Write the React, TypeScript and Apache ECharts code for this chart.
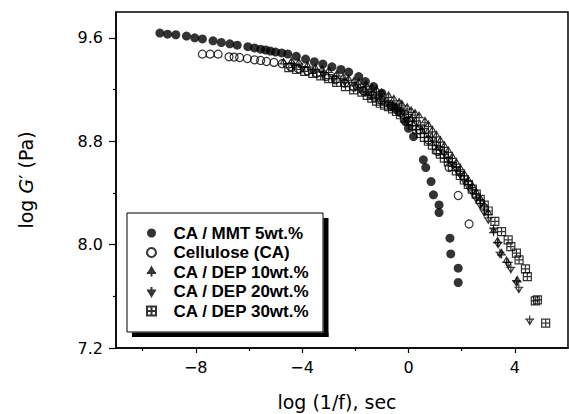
import React, { useEffect, useRef } from 'react';
import * as echarts from 'echarts';

// ---- data ----
const mmtX = [-9.35, -9.06, -8.75, -8.35, -8.04, -7.75, -7.35, -7.04, -6.72, -6.44, -6.04, -5.79, -5.56, -5.37, -5.19, -5.0, -4.77, -4.54, -4.22, -3.87, -3.54, -3.22, -2.88, -2.54, -2.25, -1.87, -1.62, -1.31, -1.0, -0.56, -0.37, -0.12, 0.0, 0.19, 0.56, 0.65, 0.85, 0.94, 1.15, 1.15, 1.56, 1.59, 1.87, 1.87];
const mmtY = [9.637, 9.628, 9.624, 9.614, 9.6, 9.592, 9.577, 9.564, 9.554, 9.543, 9.532, 9.522, 9.512, 9.506, 9.498, 9.49, 9.483, 9.475, 9.457, 9.436, 9.415, 9.397, 9.376, 9.355, 9.335, 9.3, 9.262, 9.223, 9.172, 9.069, 9.03, 8.952, 8.9, 8.836, 8.656, 8.596, 8.488, 8.385, 8.307, 8.248, 8.05, 7.928, 7.818, 7.707];

const caX = [-7.75, -7.46, -7.16, -6.75, -6.56, -6.35, -6.06, -5.79, -5.56, -5.34, -5.06, -4.75, -4.44, -4.15, -3.8, -3.45, -3.1, -2.75, -2.4, -2.05, -1.7, -1.35, -1.0, -0.65, -0.3, 0.05, 0.4, 0.75, 1.1, 1.53, 1.87, 2.28];
const caY = [9.474, 9.474, 9.474, 9.453, 9.451, 9.448, 9.44, 9.43, 9.425, 9.417, 9.41, 9.4, 9.378, 9.363, 9.345, 9.325, 9.3, 9.275, 9.25, 9.22, 9.19, 9.155, 9.115, 9.07, 9.02, 8.96, 8.89, 8.81, 8.72, 8.596, 8.38, 8.16];

const dep10X = [-4.7, -4.4, -4.12, -3.8, -3.5, -3.25, -3.0, -2.7, -2.45, -2.25, -2.05, -1.87, -1.6, -1.38, -1.2, -1.0, -0.75, -0.55, -0.35, -0.25, -0.05, 0.1, 0.25, 0.4, 0.62, 0.75, 0.9, 1.05, 1.2, 1.35, 1.5, 1.65, 1.8, 1.95, 2.1, 2.25, 2.4, 2.55, 2.7, 2.85, 3.0, 3.2, 3.35, 3.5, 3.69, 4.09];
const dep10Y = [9.405, 9.41, 9.404, 9.38, 9.36, 9.35, 9.339, 9.31, 9.29, 9.275, 9.26, 9.249, 9.23, 9.21, 9.19, 9.17, 9.146, 9.12, 9.095, 9.08, 9.055, 9.03, 9.01, 8.99, 8.95, 8.92, 8.88, 8.84, 8.8, 8.76, 8.72, 8.675, 8.63, 8.585, 8.54, 8.495, 8.45, 8.4, 8.35, 8.3, 8.24, 8.1, 8.02, 7.928, 7.869, 7.719];

const dep20X = [-4.3, -4.0, -3.6, -3.2, -2.8, -2.4, -2.0, -1.8, -1.6, -1.4, -1.2, -1.0, -0.8, -0.6, -0.4, -0.2, 0.0, 0.15, 0.3, 0.45, 0.6, 0.75, 0.9, 1.05, 1.2, 1.35, 1.5, 1.65, 1.8, 1.95, 2.1, 2.25, 2.4, 2.55, 2.7, 2.85, 3.0, 3.2, 3.37, 3.44, 3.75, 3.85, 4.06, 4.15, 4.56];
const dep20Y = [9.385, 9.37, 9.35, 9.325, 9.295, 9.265, 9.23, 9.21, 9.19, 9.17, 9.15, 9.125, 9.105, 9.08, 9.055, 9.03, 9.0, 8.975, 8.95, 8.92, 8.89, 8.855, 8.82, 8.785, 8.75, 8.71, 8.67, 8.63, 8.59, 8.545, 8.5, 8.455, 8.41, 8.36, 8.31, 8.255, 8.2, 8.12, 8.011, 7.934, 7.856, 7.817, 7.714, 7.663, 7.417];

const dep30X = [-4.5, -4.2, -3.9, -3.6, -3.3, -3.0, -2.7, -2.37, -2.06, -1.75, -1.55, -1.38, -1.2, -1.06, -0.9, -0.75, -0.6, -0.45, -0.3, -0.15, 0.0, 0.15, 0.31, 0.45, 0.6, 0.75, 0.9, 1.05, 1.2, 1.35, 1.5, 1.65, 1.8, 1.95, 2.1, 2.25, 2.4, 2.55, 2.7, 2.85, 3.0, 3.25, 3.5, 3.75, 3.85, 4.06, 4.16, 4.4, 4.47, 4.77, 4.85, 5.16];
const dep30Y = [9.37, 9.355, 9.34, 9.325, 9.305, 9.285, 9.255, 9.223, 9.198, 9.18, 9.155, 9.133, 9.11, 9.094, 9.08, 9.068, 9.05, 9.03, 9.005, 8.98, 8.955, 8.92, 8.888, 8.86, 8.83, 8.8, 8.77, 8.735, 8.7, 8.67, 8.64, 8.605, 8.57, 8.535, 8.5, 8.465, 8.43, 8.39, 8.35, 8.305, 8.26, 8.18, 8.1, 8.037, 7.985, 7.934, 7.882, 7.812, 7.753, 7.564, 7.572, 7.392];

const seriesNames = ['CA / MMT 5wt.%', 'Cellulose (CA)', 'CA / DEP 10wt.%', 'CA / DEP 20wt.%', 'CA / DEP 30wt.%'];

const yTicks = [7.2, 8.0, 8.8, 9.6];
const yMinorTicks = [7.6, 8.4, 9.2];
const xTicks = [-8, -4, 0, 4];
const xMinorTicks = [-10, -6, -2, 2];

const X_MIN = -11;
const X_MAX = 6;
const Y_MIN = 7.2;
const Y_MAX = 9.8;

const UP = 'path://M5,0 L1.5,6 L8.5,6 Z M0,6 L10,6 M5,0 L5,10';
const DOWN = 'path://M5,10 L1.5,4 L8.5,4 Z M0,4 L10,4 M5,0 L5,10';
const SQUARE = 'path://M0,0 L10,0 L10,10 L0,10 Z M0,5 L10,5 M5,0 L5,10';

const zip = (xs: number[], ys: number[]) => xs.map((x, i) => [x, ys[i]]);

export default function App() {
  const ref = useRef<HTMLDivElement>(null);
  useEffect(() => {
    if (!ref.current) return;
    const chart = echarts.init(ref.current, null, { renderer: 'svg' });
    const tickFont = { fontFamily: 'DejaVu Sans', fontSize: 16, color: '#000' };
    const outline = { color: 'rgba(0,0,0,0)', borderColor: '#000', borderWidth: 1.2 };
    chart.setOption({
      animation: false,
      backgroundColor: '#fff',
      grid: {
        left: 116, right: 1, top: 12, bottom: 66,
        show: true, borderColor: '#000', borderWidth: 1.5, backgroundColor: 'transparent',
        outerBoundsMode: 'none',
      },
      xAxis: [
        {
          type: 'value', min: X_MIN, max: X_MAX, position: 'bottom',
          axisLine: { show: true, onZero: false, lineStyle: { color: '#000', width: 1.5 } },
          axisTick: { show: true, inside: false, length: 5, customValues: xTicks, lineStyle: { color: '#000', width: 1.2 } },
          axisLabel: {
            show: true, margin: 11, customValues: xTicks, ...tickFont,
            formatter: (v: number) => (v < 0 ? '\u2212' + Math.abs(v) : String(v)),
          },
          splitLine: { show: false },
        },
        {
          type: 'value', min: X_MIN, max: X_MAX, position: 'bottom',
          axisLine: { show: false, onZero: false },
          axisTick: { show: true, inside: false, length: 3, customValues: xMinorTicks, lineStyle: { color: '#000', width: 1.2 } },
          axisLabel: { show: false },
          splitLine: { show: false },
        },
      ],
      yAxis: [
        {
          type: 'value', min: Y_MIN, max: Y_MAX, position: 'left',
          axisLine: { show: true, onZero: false, lineStyle: { color: '#000', width: 1.5 } },
          axisTick: { show: true, inside: false, length: 7, customValues: yTicks, lineStyle: { color: '#000', width: 1.2 } },
          axisLabel: {
            show: true, margin: 13, customValues: yTicks, ...tickFont,
            formatter: (v: number) => v.toFixed(1),
          },
          splitLine: { show: false },
        },
        {
          type: 'value', min: Y_MIN, max: Y_MAX, position: 'left',
          axisLine: { show: false, onZero: false },
          axisTick: { show: true, inside: false, length: 3, customValues: yMinorTicks, lineStyle: { color: '#000', width: 1.2 } },
          axisLabel: { show: false },
          splitLine: { show: false },
        },
      ],
      legend: {
        show: true,
        orient: 'vertical',
        left: 127,
        top: 213,
        padding: [10.25, 16, 12.25, 19],
        itemWidth: 34,
        itemHeight: 9,
        itemGap: 0,
        backgroundColor: 'transparent',
        borderWidth: 0,
        z: 6,
        textStyle: {
          fontFamily: 'Liberation Sans', fontWeight: 'bold', fontSize: 17, color: '#000', lineHeight: 19.5,
        },
        data: seriesNames,
      },
      graphic: [
        {
          type: 'group', silent: true, z: 4,
          children: [
            { type: 'rect', shape: { x: 127, y: 213, width: 196, height: 119 }, style: { fill: '#fff', stroke: '#000', lineWidth: 1 } },
            { type: 'rect', shape: { x: 323.5, y: 218, width: 5, height: 119 }, style: { fill: '#000' } },
            { type: 'rect', shape: { x: 132, y: 332.5, width: 196.5, height: 4.5 }, style: { fill: '#000' } },
          ],
        },
        {
          type: 'text', x: 26, y: 180, rotation: Math.PI / 2,
          style: {
            text: '{n|log }{i|G}{n|\u2032 (Pa)}',
            textAlign: 'center', textVerticalAlign: 'middle',
            fontFamily: 'DejaVu Sans', fontSize: 19, fill: '#000',
            rich: {
              n: { fontFamily: 'DejaVu Sans', fontSize: 19, fill: '#000' },
              i: { fontFamily: 'DejaVu Sans', fontSize: 19, fontStyle: 'italic', fill: '#000' },
            },
          },
        },
        {
          type: 'text', x: 337, y: 402,
          style: {
            text: 'log (1/f), sec',
            textAlign: 'center', textVerticalAlign: 'middle',
            fontFamily: 'DejaVu Sans', fontSize: 19, fill: '#000',
          },
        },
      ],
      series: [
        {
          name: seriesNames[0], type: 'scatter', symbol: 'circle', symbolSize: 9,
          itemStyle: { color: '#000', borderWidth: 0 },
          data: zip(mmtX, mmtY),
        },
        {
          name: seriesNames[1], type: 'scatter', symbol: 'circle', symbolSize: 8,
          itemStyle: outline,
          data: zip(caX, caY),
        },
        {
          name: seriesNames[2], type: 'scatter', symbol: UP, symbolSize: 9, symbolKeepAspect: true,
          itemStyle: outline,
          data: zip(dep10X, dep10Y),
        },
        {
          name: seriesNames[3], type: 'scatter', symbol: DOWN, symbolSize: 9, symbolKeepAspect: true,
          itemStyle: outline,
          data: zip(dep20X, dep20Y),
        },
        {
          name: seriesNames[4], type: 'scatter', symbol: SQUARE, symbolSize: 8, symbolKeepAspect: true,
          itemStyle: outline,
          data: zip(dep30X, dep30Y),
        },
      ],
    });
    return () => chart.dispose();
  }, []);
  return (
    <div
      ref={ref}
      style={{ position: 'absolute', left: 0, top: 0, width: 569, height: 414, background: '#fff' }}
    />
  );
}
